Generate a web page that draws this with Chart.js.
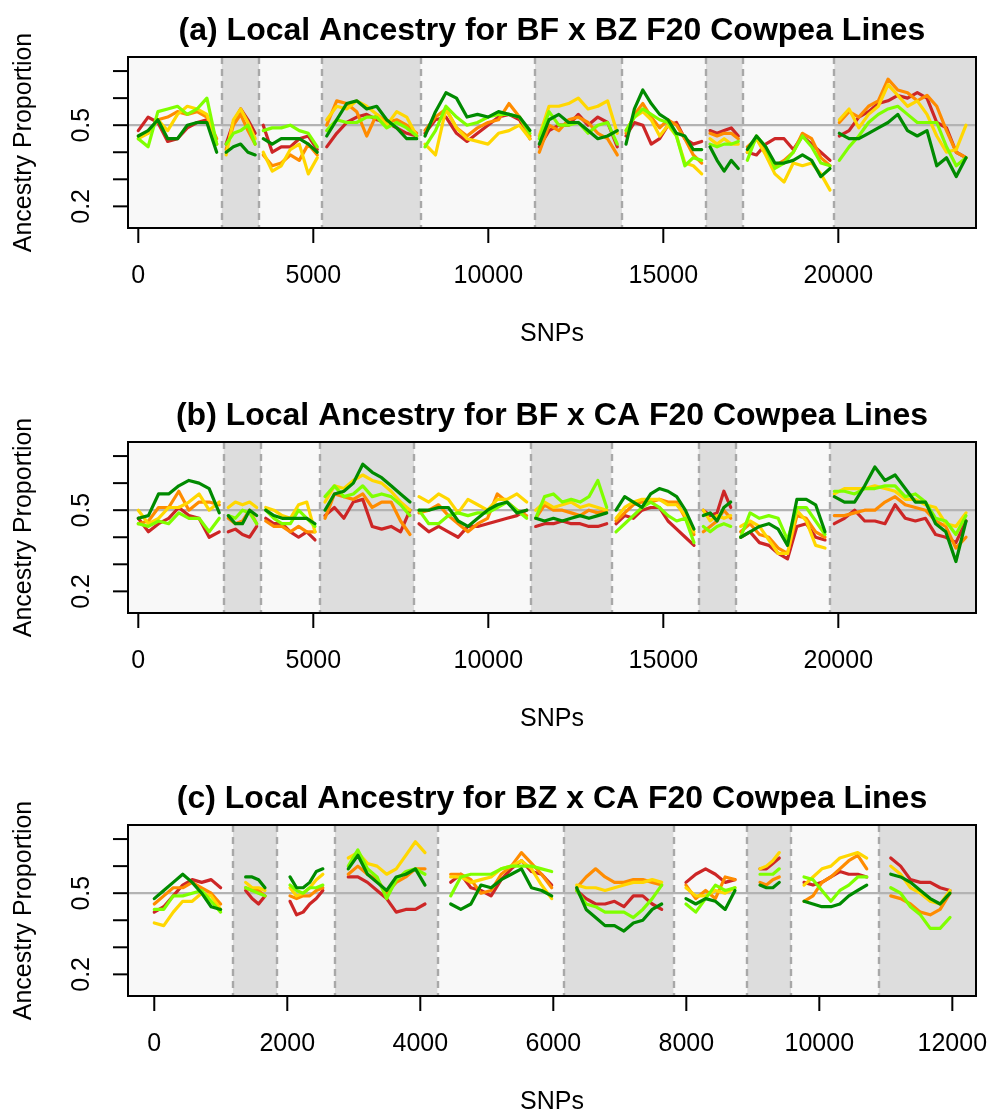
<!DOCTYPE html>
<html lang="en">
<head>
    <meta charset="UTF-8">
    <title>Local Ancestry F20 Cowpea Lines</title>
    <script src="https://cdn.jsdelivr.net/npm/chart.js"></script>
    <style>
        html, body {
            margin: 0;
            padding: 0;
            background: #fff;
        }

        .page {
            position: relative;
            width: 989px;
            height: 1117px;
            overflow: hidden;
        }

        .panel {
            position: absolute;
            left: 0;
            width: 989px;
            height: 352px;
        }
    </style>
</head>
<body>
    <div class="page">
        <div class="panel" style="top: 0px;"><canvas id="panelA" width="989" height="352"></canvas></div>
        <div class="panel" style="top: 384.7px;"><canvas id="panelB" width="989" height="352"></canvas></div>
        <div class="panel" style="top: 768px;"><canvas id="panelC" width="989" height="352"></canvas></div>
    </div>

    <script>
        // five F20 lines, same colour in every panel
        const lineNames = ['line 1', 'line 2', 'line 3', 'line 4', 'line 5'];
        const lineColors = ['#CD2626', '#FF8C00', '#FFD700', '#7FFF00', '#008B00'];

        const yTicks = [0.2, 0.3, 0.4, 0.5, 0.6, 0.7];
        const yLabels = ['0.2', '', '', '0.5', '', ''];

        // ---------- (a) BF x BZ ----------
        const aTitle = '(a) Local Ancestry for BF x BZ F20 Cowpea Lines';
        const aTicks = [0, 5000, 10000, 15000, 20000];
        const aBounds = [2383, 3449, 5257, 8069, 11334, 13820, 16220, 17269, 19886];
        const aSpans = [[0, 2240], [2510, 3340], [3570, 5114], [5383, 7954], [8191, 11191],
                        [11457, 13686], [13934, 16097], [16334, 17143], [17400, 19763], [20029, 23648]];
        const aRed = [
            [0.48, 0.53, 0.51, 0.44, 0.45, 0.49, 0.51, 0.52, 0.43],
            [0.43, 0.51, 0.56, 0.52, 0.47],
            [0.50, 0.40, 0.42, 0.42, 0.45, 0.46, 0.41],
            [0.42, 0.47, 0.51, 0.53, 0.54, 0.52, 0.51, 0.49, 0.47, 0.46],
            [0.47, 0.52, 0.53, 0.47, 0.44, 0.47, 0.50, 0.53, 0.54, 0.52, 0.45],
            [0.42, 0.48, 0.50, 0.50, 0.54, 0.50, 0.53, 0.51, 0.42],
            [0.46, 0.51, 0.50, 0.43, 0.45, 0.50, 0.51, 0.45, 0.43, 0.44],
            [0.48, 0.47, 0.48, 0.49, 0.46],
            [0.40, 0.39, 0.43, 0.45, 0.45, 0.41, 0.46, 0.43, 0.40, 0.37],
            [0.46, 0.48, 0.53, 0.55, 0.58, 0.59, 0.61, 0.60, 0.62, 0.60, 0.51, 0.49, 0.40, 0.38]
        ];
        const aOrange = [
            [0.46, 0.47, 0.52, 0.53, 0.55, 0.54, 0.55, 0.53, 0.45],
            [0.41, 0.50, 0.54, 0.48, 0.43],
            [0.39, 0.35, 0.36, 0.39, 0.37, 0.43, 0.39],
            [0.50, 0.59, 0.58, 0.55, 0.46, 0.54, 0.51, 0.52, 0.50, 0.47],
            [0.48, 0.53, 0.56, 0.49, 0.46, 0.49, 0.51, 0.52, 0.58, 0.53, 0.46],
            [0.40, 0.50, 0.48, 0.52, 0.53, 0.51, 0.47, 0.45, 0.39],
            [0.47, 0.54, 0.58, 0.53, 0.49, 0.52, 0.50, 0.45, 0.39, 0.36],
            [0.47, 0.46, 0.47, 0.47, 0.45],
            [0.42, 0.45, 0.40, 0.35, 0.37, 0.40, 0.47, 0.45, 0.38, 0.35],
            [0.51, 0.55, 0.53, 0.57, 0.59, 0.67, 0.63, 0.62, 0.59, 0.61, 0.57, 0.48, 0.40, 0.38]
        ];
        const aGold = [
            [0.45, 0.47, 0.52, 0.48, 0.54, 0.57, 0.56, 0.54, 0.43],
            [0.39, 0.52, 0.56, 0.51, 0.45],
            [0.40, 0.33, 0.35, 0.41, 0.43, 0.32, 0.38],
            [0.52, 0.57, 0.56, 0.59, 0.57, 0.54, 0.50, 0.55, 0.53, 0.46],
            [0.43, 0.39, 0.56, 0.49, 0.45, 0.44, 0.43, 0.47, 0.48, 0.50, 0.45],
            [0.46, 0.57, 0.57, 0.58, 0.60, 0.56, 0.57, 0.59, 0.47],
            [0.48, 0.53, 0.55, 0.52, 0.46, 0.50, 0.46, 0.36, 0.35, 0.32],
            [0.45, 0.43, 0.45, 0.43, 0.43],
            [0.40, 0.45, 0.39, 0.32, 0.29, 0.36, 0.35, 0.36, 0.32, 0.26],
            [0.52, 0.56, 0.49, 0.54, 0.57, 0.65, 0.61, 0.57, 0.59, 0.54, 0.46, 0.40, 0.41, 0.50]
        ];
        const aLime = [
            [0.45, 0.42, 0.55, 0.56, 0.57, 0.54, 0.56, 0.60, 0.43],
            [0.43, 0.47, 0.48, 0.50, 0.43],
            [0.48, 0.49, 0.49, 0.50, 0.48, 0.47, 0.42],
            [0.48, 0.52, 0.51, 0.51, 0.53, 0.53, 0.49, 0.51, 0.49, 0.46],
            [0.42, 0.48, 0.57, 0.53, 0.50, 0.51, 0.53, 0.54, 0.54, 0.53, 0.47],
            [0.45, 0.55, 0.50, 0.50, 0.51, 0.47, 0.50, 0.51, 0.43],
            [0.48, 0.53, 0.56, 0.54, 0.52, 0.51, 0.46, 0.35, 0.38, 0.37],
            [0.43, 0.42, 0.43, 0.43, 0.44],
            [0.37, 0.46, 0.42, 0.34, 0.36, 0.40, 0.46, 0.42, 0.36, 0.35],
            [0.37, 0.42, 0.46, 0.51, 0.54, 0.56, 0.57, 0.54, 0.51, 0.51, 0.51, 0.42, 0.35, 0.38]
        ];
        const aGreen = [
            [0.46, 0.48, 0.52, 0.45, 0.45, 0.50, 0.51, 0.51, 0.40],
            [0.40, 0.42, 0.43, 0.40, 0.39],
            [0.45, 0.43, 0.45, 0.45, 0.45, 0.43, 0.40],
            [0.46, 0.52, 0.58, 0.59, 0.56, 0.57, 0.52, 0.49, 0.45, 0.45],
            [0.46, 0.55, 0.62, 0.60, 0.53, 0.54, 0.53, 0.55, 0.54, 0.53, 0.48],
            [0.43, 0.52, 0.54, 0.51, 0.51, 0.48, 0.45, 0.46, 0.48],
            [0.43, 0.56, 0.63, 0.58, 0.54, 0.52, 0.47, 0.46, 0.41, 0.41],
            [0.42, 0.37, 0.33, 0.37, 0.34],
            [0.41, 0.46, 0.42, 0.36, 0.36, 0.37, 0.39, 0.37, 0.31, 0.34],
            [0.47, 0.45, 0.45, 0.47, 0.49, 0.51, 0.54, 0.48, 0.46, 0.48, 0.35, 0.38, 0.31, 0.38]
        ];

        // ---------- (b) BF x CA ----------
        const bTitle = '(b) Local Ancestry for BF x CA F20 Cowpea Lines';
        const bTicks = [0, 5000, 10000, 15000, 20000];
        const bBounds = [2440, 3506, 5191, 7886, 11220, 13526, 16011, 17077, 19771];
        const bSpans = [[0, 2314], [2571, 3383], [3640, 5049], [5334, 7763], [8020, 11097],
                        [11354, 13383], [13649, 15877], [16143, 16926], [17211, 19620], [19886, 23649]];
        const bRed = [
            [0.47, 0.42, 0.45, 0.47, 0.51, 0.48, 0.47, 0.40, 0.42],
            [0.42, 0.43, 0.41, 0.40, 0.44],
            [0.47, 0.45, 0.45, 0.42, 0.40, 0.42, 0.39],
            [0.48, 0.51, 0.47, 0.53, 0.54, 0.44, 0.43, 0.44, 0.42, 0.50],
            [0.45, 0.42, 0.44, 0.42, 0.40, 0.44, 0.44, 0.45, 0.46, 0.47, 0.48, 0.50],
            [0.44, 0.45, 0.45, 0.46, 0.45, 0.45, 0.44, 0.44, 0.45],
            [0.45, 0.48, 0.47, 0.50, 0.51, 0.51, 0.46, 0.43, 0.40, 0.37],
            [0.50, 0.48, 0.49, 0.57, 0.51],
            [0.40, 0.42, 0.38, 0.37, 0.34, 0.32, 0.44, 0.45, 0.40, 0.39],
            [0.45, 0.47, 0.50, 0.46, 0.46, 0.45, 0.52, 0.47, 0.46, 0.47, 0.41, 0.40, 0.38, 0.46]
        ];
        const bOrange = [
            [0.45, 0.46, 0.51, 0.51, 0.57, 0.50, 0.53, 0.53, 0.52],
            [0.47, 0.45, 0.46, 0.50, 0.45],
            [0.46, 0.44, 0.44, 0.42, 0.44, 0.42, 0.42],
            [0.47, 0.56, 0.55, 0.54, 0.56, 0.51, 0.53, 0.53, 0.46, 0.41],
            [0.49, 0.50, 0.52, 0.48, 0.45, 0.42, 0.45, 0.47, 0.56, 0.53, 0.50, 0.48],
            [0.47, 0.52, 0.50, 0.50, 0.49, 0.48, 0.50, 0.49, 0.50],
            [0.46, 0.49, 0.52, 0.53, 0.53, 0.54, 0.53, 0.53, 0.47, 0.41],
            [0.42, 0.44, 0.46, 0.50, 0.47],
            [0.42, 0.45, 0.41, 0.40, 0.36, 0.34, 0.48, 0.47, 0.42, 0.40],
            [0.48, 0.48, 0.49, 0.50, 0.50, 0.53, 0.55, 0.52, 0.51, 0.50, 0.46, 0.44, 0.36, 0.40]
        ];
        const bGold = [
            [0.50, 0.45, 0.47, 0.51, 0.51, 0.53, 0.56, 0.50, 0.53],
            [0.51, 0.53, 0.52, 0.53, 0.51],
            [0.51, 0.50, 0.48, 0.47, 0.52, 0.53, 0.42],
            [0.53, 0.59, 0.58, 0.61, 0.63, 0.61, 0.60, 0.57, 0.53, 0.50],
            [0.55, 0.53, 0.56, 0.54, 0.49, 0.54, 0.52, 0.50, 0.54, 0.54, 0.56, 0.53],
            [0.50, 0.53, 0.51, 0.52, 0.53, 0.51, 0.52, 0.51, 0.50],
            [0.47, 0.51, 0.53, 0.54, 0.54, 0.54, 0.52, 0.52, 0.48, 0.42],
            [0.50, 0.46, 0.48, 0.47, 0.48],
            [0.44, 0.46, 0.44, 0.39, 0.34, 0.34, 0.50, 0.46, 0.37, 0.36],
            [0.56, 0.58, 0.58, 0.58, 0.59, 0.58, 0.57, 0.54, 0.54, 0.52, 0.51, 0.45, 0.44, 0.49]
        ];
        const bLime = [
            [0.45, 0.44, 0.46, 0.45, 0.49, 0.47, 0.47, 0.42, 0.47],
            [0.48, 0.47, 0.50, 0.49, 0.45],
            [0.50, 0.47, 0.45, 0.45, 0.50, 0.47, 0.44],
            [0.55, 0.59, 0.55, 0.56, 0.59, 0.55, 0.56, 0.55, 0.52, 0.48],
            [0.50, 0.45, 0.45, 0.48, 0.49, 0.48, 0.49, 0.49, 0.51, 0.53, 0.50, 0.47],
            [0.47, 0.55, 0.56, 0.53, 0.54, 0.53, 0.55, 0.61, 0.51],
            [0.42, 0.45, 0.48, 0.51, 0.53, 0.51, 0.48, 0.46, 0.47, 0.38],
            [0.44, 0.42, 0.44, 0.45, 0.44],
            [0.40, 0.49, 0.47, 0.48, 0.47, 0.39, 0.51, 0.51, 0.46, 0.41],
            [0.57, 0.57, 0.56, 0.58, 0.58, 0.59, 0.59, 0.55, 0.56, 0.53, 0.47, 0.46, 0.41, 0.48]
        ];
        const bGreen = [
            [0.47, 0.48, 0.56, 0.56, 0.59, 0.61, 0.60, 0.58, 0.49],
            [0.48, 0.45, 0.45, 0.50, 0.48],
            [0.50, 0.48, 0.47, 0.47, 0.47, 0.47, 0.45],
            [0.50, 0.56, 0.57, 0.60, 0.67, 0.64, 0.62, 0.59, 0.56, 0.53],
            [0.50, 0.50, 0.51, 0.51, 0.46, 0.44, 0.47, 0.50, 0.52, 0.53, 0.49, 0.50],
            [0.47, 0.46, 0.47, 0.46, 0.47, 0.48, 0.47, 0.48, 0.49],
            [0.50, 0.55, 0.53, 0.51, 0.56, 0.58, 0.57, 0.55, 0.50, 0.43],
            [0.48, 0.49, 0.46, 0.51, 0.53],
            [0.40, 0.42, 0.44, 0.45, 0.43, 0.37, 0.54, 0.54, 0.52, 0.42],
            [0.55, 0.53, 0.53, 0.59, 0.66, 0.61, 0.63, 0.58, 0.53, 0.53, 0.45, 0.42, 0.31, 0.46]
        ];

        // ---------- (c) BZ x CA ----------
        const cTitle = '(c) Local Ancestry for BZ x CA F20 Cowpea Lines';
        const cTicks = [0, 2000, 4000, 6000, 8000, 10000, 12000];
        const cBounds = [1183, 1850, 2717, 4261, 6161, 7810, 8917, 9574, 10893];
        const cSpans = [[0, 998], [1374, 1665], [2041, 2535], [2917, 4071], [4457, 5976],
                        [6352, 7630], [7995, 8732], [9108, 9398], [9770, 10713], [11074, 11965]];
        const cRed = [
            [0.43, 0.45, 0.49, 0.53, 0.55, 0.54, 0.55, 0.52],
            [0.51, 0.48, 0.46, 0.49],
            [0.47, 0.42, 0.43, 0.46, 0.48, 0.51],
            [0.56, 0.56, 0.54, 0.51, 0.48, 0.43, 0.44, 0.44, 0.46],
            [0.54, 0.57, 0.52, 0.51, 0.49, 0.55, 0.59, 0.62, 0.58, 0.57, 0.53],
            [0.51, 0.48, 0.46, 0.46, 0.47, 0.45, 0.49, 0.49, 0.46, 0.44],
            [0.54, 0.57, 0.59, 0.57, 0.54, 0.55],
            [0.59, 0.59, 0.61, 0.63],
            [0.54, 0.53, 0.54, 0.56, 0.58, 0.57, 0.57, 0.56],
            [0.63, 0.60, 0.55, 0.54, 0.54, 0.52, 0.51]
        ];
        const cOrange = [
            [0.46, 0.49, 0.52, 0.52, 0.54, 0.52, 0.50, 0.46],
            [0.52, 0.51, 0.51, 0.49],
            [0.49, 0.48, 0.49, 0.49, 0.51, 0.52],
            [0.57, 0.60, 0.57, 0.55, 0.50, 0.54, 0.56, 0.59, 0.59],
            [0.57, 0.57, 0.55, 0.50, 0.51, 0.57, 0.60, 0.65, 0.61, 0.57, 0.52],
            [0.52, 0.56, 0.59, 0.56, 0.54, 0.54, 0.55, 0.55, 0.54, 0.53],
            [0.53, 0.48, 0.51, 0.48, 0.56, 0.55],
            [0.54, 0.53, 0.55, 0.56],
            [0.47, 0.49, 0.54, 0.56, 0.59, 0.62, 0.64, 0.59],
            [0.49, 0.48, 0.46, 0.43, 0.42, 0.44, 0.50]
        ];
        const cGold = [
            [0.39, 0.38, 0.43, 0.47, 0.47, 0.50, 0.49, 0.44],
            [0.54, 0.52, 0.52, 0.51],
            [0.52, 0.49, 0.50, 0.52, 0.55, 0.57],
            [0.63, 0.65, 0.61, 0.60, 0.57, 0.59, 0.64, 0.69, 0.65],
            [0.56, 0.56, 0.54, 0.55, 0.56, 0.59, 0.60, 0.62, 0.59, 0.53, 0.48],
            [0.53, 0.52, 0.52, 0.51, 0.52, 0.53, 0.54, 0.54, 0.55, 0.54],
            [0.52, 0.49, 0.49, 0.51, 0.50, 0.52],
            [0.59, 0.60, 0.62, 0.65],
            [0.53, 0.56, 0.59, 0.60, 0.63, 0.64, 0.65, 0.63],
            [0.60, 0.57, 0.52, 0.50, 0.47, 0.46, 0.51]
        ];
        const cLime = [
            [0.44, 0.44, 0.49, 0.49, 0.50, 0.51, 0.47, 0.43],
            [0.52, 0.51, 0.50, 0.49],
            [0.53, 0.51, 0.50, 0.52, 0.52, 0.53],
            [0.60, 0.66, 0.59, 0.56, 0.48, 0.55, 0.58, 0.59, 0.57],
            [0.49, 0.56, 0.57, 0.57, 0.57, 0.59, 0.60, 0.60, 0.60, 0.59, 0.58],
            [0.51, 0.46, 0.45, 0.43, 0.43, 0.43, 0.41, 0.44, 0.48, 0.53],
            [0.46, 0.43, 0.48, 0.53, 0.51, 0.52],
            [0.57, 0.57, 0.57, 0.59],
            [0.56, 0.55, 0.51, 0.47, 0.51, 0.53, 0.56, 0.56],
            [0.52, 0.50, 0.45, 0.42, 0.37, 0.37, 0.41]
        ];
        const cGreen = [
            [0.48, 0.51, 0.54, 0.57, 0.54, 0.50, 0.45, 0.44],
            [0.56, 0.56, 0.55, 0.52],
            [0.56, 0.52, 0.52, 0.54, 0.58, 0.59],
            [0.59, 0.64, 0.57, 0.54, 0.51, 0.56, 0.57, 0.59, 0.53],
            [0.46, 0.44, 0.46, 0.53, 0.52, 0.55, 0.57, 0.59, 0.52, 0.51, 0.49],
            [0.52, 0.44, 0.41, 0.38, 0.38, 0.36, 0.39, 0.40, 0.44, 0.46],
            [0.48, 0.46, 0.48, 0.47, 0.44, 0.51],
            [0.53, 0.52, 0.52, 0.54],
            [0.47, 0.46, 0.45, 0.45, 0.46, 0.49, 0.51, 0.53],
            [0.57, 0.56, 0.54, 0.51, 0.48, 0.46, 0.50]
        ];

        const FONT = '"Liberation Sans", Arial, Helvetica, sans-serif';

        // one chromosome after another, with a null point so the line breaks between them
        function buildSeries(spans, segs) {
            const pts = [];
            segs.forEach((vals, k) => {
                const [s, e] = spans[k];
                const step = (e - s) / (vals.length - 1);
                vals.forEach((v, i) => pts.push({ x: s + i * step, y: v }));
                if (k < segs.length - 1) pts.push({ x: e, y: null });
            });
            return pts;
        }

        // R-style frame: chromosome bands, dashed borders, 0.5 line, box, ticks and labels
        const baseAxes = {
            id: 'baseAxes',
            beforeDatasetsDraw(chart, args, o) {
                const { ctx, chartArea: a, scales: { x, y } } = chart;
                ctx.save();
                const edges = [x.min, ...o.bounds, x.max];
                for (let i = 0; i < edges.length - 1; i++) {
                    const x0 = x.getPixelForValue(edges[i]);
                    const x1 = x.getPixelForValue(edges[i + 1]);
                    ctx.fillStyle = i % 2 ? '#dddddd' : '#f8f8f8';
                    ctx.fillRect(x0, a.top, x1 - x0, a.bottom - a.top);
                }
                ctx.strokeStyle = '#b3b3b3';
                ctx.lineWidth = 2.2;
                ctx.setLineDash([]);
                const yh = y.getPixelForValue(0.5);
                ctx.beginPath();
                ctx.moveTo(a.left, yh);
                ctx.lineTo(a.right, yh);
                ctx.stroke();

                ctx.strokeStyle = '#a8a8a8';
                ctx.lineWidth = 2.4;
                ctx.setLineDash([7, 5]);
                o.bounds.forEach(b => {
                    const px = Math.round(x.getPixelForValue(b));
                    ctx.beginPath();
                    ctx.moveTo(px, a.top);
                    ctx.lineTo(px, a.bottom);
                    ctx.stroke();
                });
                ctx.restore();
            },
            afterDraw(chart, args, o) {
                const { ctx, chartArea: a, scales: { x, y } } = chart;
                ctx.save();
                ctx.strokeStyle = '#000';
                ctx.fillStyle = '#000';
                ctx.lineWidth = 2;
                ctx.strokeRect(a.left, a.top, a.right - a.left, a.bottom - a.top);

                // y axis
                ctx.font = '25px ' + FONT;
                ctx.textAlign = 'center';
                ctx.textBaseline = 'alphabetic';
                yTicks.forEach((t, i) => {
                    const py = y.getPixelForValue(t);
                    ctx.beginPath();
                    ctx.moveTo(a.left - 15, py);
                    ctx.lineTo(a.left, py);
                    ctx.stroke();
                    if (yLabels[i]) {
                        ctx.save();
                        ctx.translate(a.left - 39, py);
                        ctx.rotate(-Math.PI / 2);
                        ctx.fillText(yLabels[i], 0, 0);
                        ctx.restore();
                    }
                });
                ctx.save();
                ctx.translate(31, (a.top + a.bottom) / 2);
                ctx.rotate(-Math.PI / 2);
                ctx.fillText('Ancestry Proportion', 0, 0);
                ctx.restore();

                // x axis
                o.xTicks.forEach(t => {
                    const px = x.getPixelForValue(t);
                    ctx.beginPath();
                    ctx.moveTo(px, a.bottom);
                    ctx.lineTo(px, a.bottom + 15);
                    ctx.stroke();
                    ctx.fillText(String(t), px, a.bottom + 55);
                });
                const cx = (a.left + a.right) / 2;
                ctx.fillText('SNPs', cx, a.bottom + 113);

                ctx.font = 'bold 32px ' + FONT;
                ctx.fillText(o.title, cx, 40);
                ctx.restore();
            }
        };

        function makePanel(id, title, xTicks, bounds, spans, series, xMin, xMax) {
            new Chart(document.getElementById(id), {
                type: 'line',
                data: {
                    datasets: series.map((segs, i) => ({
                        label: lineNames[i],
                        data: buildSeries(spans, segs),
                        borderColor: lineColors[i],
                        borderWidth: 3.2,
                        pointRadius: 0,
                        fill: false,
                        tension: 0,
                        spanGaps: false,
                        borderCapStyle: 'round',
                        borderJoinStyle: 'round',
                        order: series.length - 1 - i
                    }))
                },
                options: {
                    responsive: false,
                    animation: false,
                    devicePixelRatio: 1,
                    layout: { padding: { left: 128, right: 13, top: 57, bottom: 124 } },
                    scales: {
                        x: { type: 'linear', display: false, min: xMin, max: xMax },
                        y: { type: 'linear', display: false, min: 0.12, max: 0.752 }
                    },
                    plugins: {
                        legend: { display: false },
                        tooltip: { enabled: false },
                        baseAxes: { title: title, xTicks: xTicks, bounds: bounds }
                    }
                },
                plugins: [baseAxes]
            });
        }

        makePanel('panelA', aTitle, aTicks, aBounds, aSpans,
            [aRed, aOrange, aGold, aLime, aGreen], -294, 23934);
        makePanel('panelB', bTitle, bTicks, bBounds, bSpans,
            [bRed, bOrange, bGold, bLime, bGreen], -294, 23934);
        makePanel('panelC', cTitle, cTicks, cBounds, cSpans,
            [cRed, cOrange, cGold, cLime, cGreen], -395, 12356);
    </script>
</body>
</html>
